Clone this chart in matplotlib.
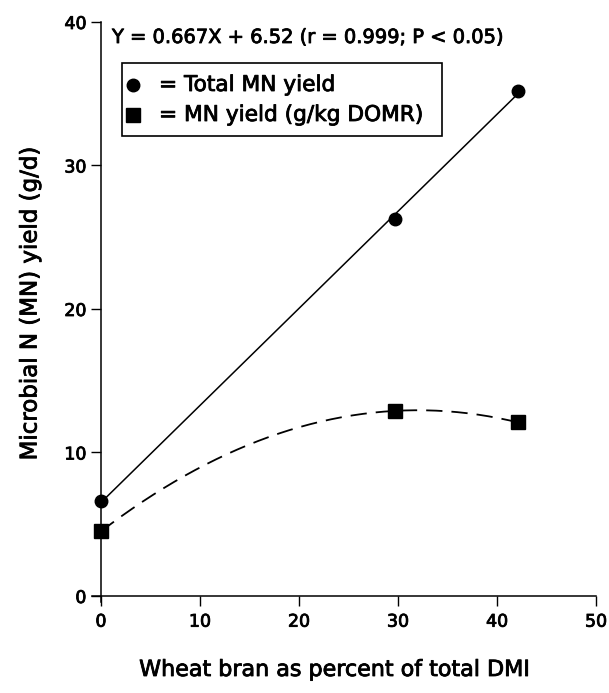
import numpy as np
import matplotlib
matplotlib.use("Agg")
import matplotlib.pyplot as plt
import matplotlib.patheffects as pe
from matplotlib.lines import Line2D
from matplotlib.patches import Rectangle

plt.rcParams['font.family'] = ['DejaVu Sans']

# data
bran_pct = [0.0, 29.7, 42.1]
total_mn = [6.6, 26.3, 35.2]
mn_domr = [4.5, 12.9, 12.1]
x_ticks = [0, 10, 20, 30, 40, 50]
y_ticks = [0, 10, 20, 30, 40]
eq_text = "Y = 0.667X + 6.52 (r = 0.999; P < 0.05)"
legend_labels = ["= Total MN yield", "= MN yield (g/kg DOMR)"]

# scanned figure, so the lettering is a bit heavier than normal
heavy = [pe.withStroke(linewidth=0.6, foreground='black')]

W, H = 609, 693
fig = plt.figure(figsize=(W / 100, H / 100), dpi=100)
ax = fig.add_axes([0.1511, 0.1317, 0.8276, 0.8366])

# regression line for total MN, quadratic trend for the per-kg series
lin = np.polyfit(bran_pct, total_mn, 1)
quad = np.polyfit(bran_pct, mn_domr, 2)
xs = np.linspace(bran_pct[0], bran_pct[-1], 200)
ax.plot(xs, np.polyval(lin, xs), color='black', lw=1.1)
ax.plot(xs, np.polyval(quad, xs), color='black', lw=1.3, dashes=(9, 5))

ax.plot(bran_pct, total_mn, 'o', color='black', ms=9, clip_on=False, zorder=5)
ax.plot(bran_pct, mn_domr, 's', color='black', ms=10, clip_on=False, zorder=5)

ax.set_xlim(-0.9, 50)
ax.set_ylim(-0.4, 40)
ax.spines['top'].set_visible(False)
ax.spines['right'].set_visible(False)
ax.spines['left'].set_position(('data', 0))
ax.spines['bottom'].set_position(('data', 0))
for s in ('left', 'bottom'):
    ax.spines[s].set_linewidth(1.1)
ax.set_xticks(x_ticks)
ax.set_yticks(y_ticks)
ax.tick_params(direction='out', length=7, width=1.0, labelsize=12.5)
ax.tick_params(axis='y', pad=3.5)
ax.tick_params(axis='x', pad=5)
for t in ax.get_xticklabels() + ax.get_yticklabels():
    t.set_path_effects(heavy)

fig.text(30 / W, 1 - 304 / H, "Microbial N (MN) yield (g/d)", rotation=90,
         ha='center', va='center', fontsize=16.5, path_effects=heavy)
fig.text(335 / W, 1 - 676 / H, "Wheat bran as percent of total DMI",
         ha='center', va='baseline', fontsize=16, path_effects=heavy)
fig.text(112 / W, 1 - 43 / H, eq_text, ha='left', va='baseline', fontsize=14,
         path_effects=heavy)

# legend box drawn by hand
fig.patches.append(Rectangle((122 / W, 1 - 136 / H), 320 / W, 73 / H,
                             transform=fig.transFigure, fill=False,
                             edgecolor='black', lw=1.2))
for ypix, mk, ms, lab in [(85, 'o', 9, legend_labels[0]),
                          (115, 's', 10, legend_labels[1])]:
    fig.lines.append(Line2D([133 / W], [1 - ypix / H], marker=mk, ms=ms,
                            color='black', ls='', transform=fig.transFigure))
    fig.text(159 / W, 1 - ypix / H, lab, ha='left', va='center',
             fontsize=15.6, path_effects=heavy)

fig.savefig("out.png", dpi=100)
